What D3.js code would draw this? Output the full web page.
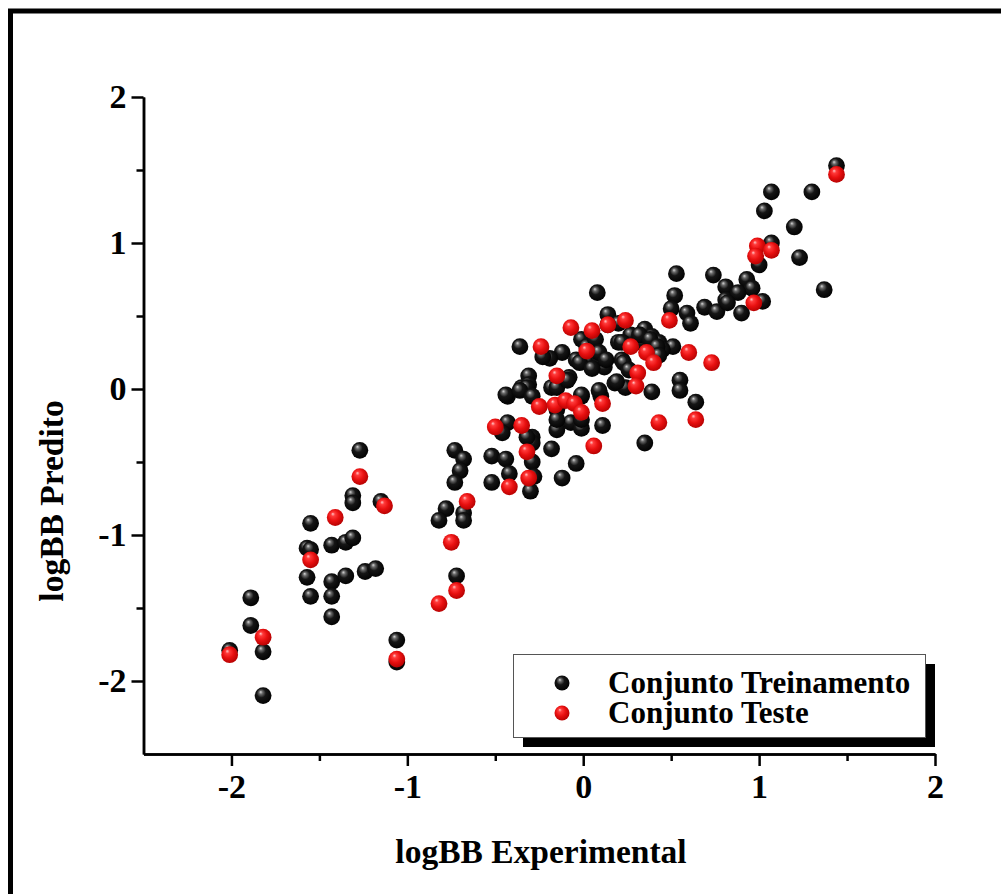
<!DOCTYPE html>
<html>
<head>
<meta charset="utf-8">
<script src="https://cdn.jsdelivr.net/npm/d3@7"></script>
<style>
  body { margin: 0; background: #fff; }
  .eixo text { font-family: "Liberation Serif", "Times New Roman", serif; font-weight: bold; font-size: 34px; fill: #000; }
  .eixo path, .eixo line { stroke: #000; stroke-width: 2.5px; }
  .rotulo { font-family: "Liberation Serif", "Times New Roman", serif; font-weight: bold; font-size: 33.5px; fill: #000; }
</style>
</head>
<body>
<div id="grafico"></div>
<script>
// logBB experimental x logBB predito
var conjuntoTreinamento = [
  [-1.89,-1.43],[-1.89,-1.62],[-1.82,-1.80],[-1.82,-2.10],[-2.01,-1.79],
  [-1.55,-0.92],[-1.57,-1.09],[-1.55,-1.10],[-1.43,-1.07],[-1.57,-1.29],[-1.55,-1.42],[-1.43,-1.32],[-1.43,-1.42],[-1.43,-1.56],
  [-1.27,-0.42],[-1.31,-0.73],[-1.31,-0.78],[-1.15,-0.77],[-1.35,-1.05],[-1.31,-1.02],[-1.35,-1.28],[-1.24,-1.25],[-1.18,-1.23],[-1.06,-1.72],[-1.06,-1.87],
  [-0.73,-0.42],[-0.68,-0.48],[-0.70,-0.56],[-0.73,-0.64],[-0.78,-0.82],[-0.82,-0.90],[-0.68,-0.85],[-0.68,-0.90],[-0.72,-1.28],
  [-0.52,-0.46],[-0.44,-0.48],[-0.52,-0.64],[-0.42,-0.58],[-0.43,-0.23],[-0.46,-0.30],[-0.29,-0.33],[-0.29,-0.37],[-0.29,-0.50],[-0.30,-0.70],[-0.28,-0.60],[-0.18,-0.41],[-0.04,-0.51],[-0.12,-0.61],
  [0.08,0.66],[0.14,0.51],[-0.36,0.29],[-0.01,0.34],[0.02,0.29],[-0.12,0.25],[-0.19,0.21],[-0.23,0.22],[-0.04,0.20],[0.03,0.20],[0.10,0.20],[0.12,0.15],
  [-0.31,0.09],[-0.35,0.01],[-0.31,0.03],[-0.43,-0.05],[-0.08,0.08],[-0.18,0.01],[-0.01,-0.05],[-0.15,-0.14],[-0.07,-0.23],[-0.01,-0.27],[-0.15,-0.28],[0.11,-0.25],
  [0.53,0.79],[0.74,0.78],[0.93,0.75],[0.96,0.69],[0.52,0.64],[0.50,0.55],[0.81,0.70],[0.81,0.61],[0.88,0.66],[0.69,0.56],[0.76,0.53],[0.90,0.52],[1.02,0.60],
  [0.59,0.52],[0.61,0.45],[0.20,0.45],[0.27,0.37],[0.35,0.41],[0.39,0.36],[0.43,0.32],[0.51,0.29],[0.20,0.32],[0.33,0.32],[0.45,0.27],[0.09,0.21],[0.22,0.20],
  [0.18,0.04],[0.24,0.01],[0.39,-0.02],[0.55,0.06],[0.55,-0.01],[0.64,-0.09],[0.35,-0.37],[0.10,-0.05],
  [1.44,1.53],[1.07,1.35],[1.30,1.35],[1.03,1.22],[1.20,1.11],[1.23,0.90],[1.37,0.68],[1.07,1.00],[1.00,0.85],[0.82,0.59],
  [0.07,0.34],[0.09,0.25],[0.13,0.20],[-0.02,0.18],[0.05,0.14],[0.22,0.32],[0.32,0.37],[0.38,0.34],[0.42,0.29],[0.43,0.23],[0.23,0.18],[0.26,0.13],[0.19,0.05],
  [-0.32,0.01],[-0.44,-0.04],[-0.36,-0.01],[-0.29,-0.05],[-0.15,0.01],[-0.09,0.06],[-0.01,-0.04],[0.09,-0.01],[-0.15,-0.21],[-0.01,-0.21],[-0.32,-0.33],[0.14,0.44]
];
var conjuntoTeste = [
  [-2.01,-1.82],[-1.82,-1.70],[-1.55,-1.17],[-1.41,-0.88],[-1.27,-0.60],[-1.13,-0.80],[-1.06,-1.85],
  [-0.66,-0.77],[-0.75,-1.05],[-0.72,-1.38],[-0.82,-1.47],[-0.42,-0.67],[-0.50,-0.26],[-0.35,-0.25],[-0.32,-0.43],[-0.31,-0.61],
  [-0.07,0.42],[0.05,0.40],[0.14,0.44],[-0.24,0.29],[0.02,0.26],[-0.15,0.09],[-0.25,-0.12],[-0.16,-0.11],[-0.10,-0.08],[-0.05,-0.10],[-0.01,-0.16],[0.11,-0.10],[0.06,-0.39],
  [0.24,0.47],[0.49,0.47],[0.27,0.29],[0.36,0.25],[0.40,0.18],[0.60,0.25],[0.73,0.18],[0.31,0.11],[0.30,0.02],[0.64,-0.21],[0.43,-0.23],
  [0.97,0.59],[0.99,0.98],[0.98,0.91],[1.07,0.95],[1.44,1.47]
];
var ticksPrincipais = [-2, -1, 0, 1, 2];
var ticksMenores = [-1.5, -0.5, 0.5, 1.5];
var nomesSeries = ["Conjunto Treinamento", "Conjunto Teste"];
var tituloX = "logBB Experimental";
var tituloY = "logBB Predito";

var largura = 1001, altura = 894;
var canvas = d3.select("#grafico").append("svg").attr("width", largura).attr("height", altura);

// moldura externa (passa da borda direita/inferior)
canvas.append("rect")
    .attr("x", 10.5).attr("y", 11)
    .attr("width", 1100).attr("height", 1000)
    .attr("fill", "#fff").attr("stroke", "#000").attr("stroke-width", 5);

var defs = canvas.append("defs");
function gradiente(id, cores) {
    var g = defs.append("radialGradient").attr("id", id)
        .attr("cx", "45%").attr("cy", "45%").attr("r", "60%")
        .attr("fx", "35%").attr("fy", "28%");
    cores.forEach(function (c) {
        g.append("stop").attr("offset", c[0]).attr("stop-color", c[1]);
    });
}
gradiente("bolaPreta", [["0%", "#d8d8d8"], ["18%", "#6a6a6a"], ["45%", "#151515"], ["100%", "#000"]]);
gradiente("bolaVermelha", [["0%", "#ffc8c8"], ["20%", "#ff3a3a"], ["55%", "#e81010"], ["100%", "#b00000"]]);

var xScale = d3.scaleLinear().domain([-2.5, 2]).range([143.5, 935]);
var yScale = d3.scaleLinear().domain([-2.5, 2]).range([754, 97]);

// ticks menores
canvas.append("g").attr("class", "eixo")
    .attr("transform", "translate(0,754)")
    .call(d3.axisBottom(xScale).tickValues(ticksMenores).tickSize(7).tickSizeOuter(0).tickFormat(""));
canvas.append("g").attr("class", "eixo")
    .attr("transform", "translate(143.5,0)")
    .call(d3.axisLeft(yScale).tickValues(ticksMenores).tickSize(7).tickSizeOuter(0).tickFormat(""));

var eixoX = canvas.append("g").attr("class", "eixo")
    .attr("transform", "translate(0,754)")
    .call(d3.axisBottom(xScale).tickValues(ticksPrincipais).tickSize(12).tickSizeOuter(0).tickPadding(8)
        .tickFormat(function (d) { return String(d); }));

var eixoY = canvas.append("g").attr("class", "eixo")
    .attr("transform", "translate(143.5,0)")
    .call(d3.axisLeft(yScale).tickValues(ticksPrincipais).tickSize(12).tickSizeOuter(0).tickPadding(5)
        .tickFormat(function (d) { return String(d); }));

canvas.append("text").attr("class", "rotulo")
    .attr("x", 541).attr("y", 863)
    .attr("text-anchor", "middle")
    .text(tituloX);

canvas.append("text").attr("class", "rotulo")
    .attr("transform", "translate(63,501) rotate(-90)")
    .attr("text-anchor", "middle")
    .text(tituloY);

var pontos = canvas.append("g");
pontos.selectAll(".treino")
    .data(conjuntoTreinamento)
    .enter().append("circle")
    .attr("class", "treino")
    .attr("cx", function (d) { return xScale(d[0]); })
    .attr("cy", function (d) { return yScale(d[1]); })
    .attr("r", 8.4)
    .attr("fill", "url(#bolaPreta)");

pontos.selectAll(".teste")
    .data(conjuntoTeste)
    .enter().append("circle")
    .attr("class", "teste")
    .attr("cx", function (d) { return xScale(d[0]); })
    .attr("cy", function (d) { return yScale(d[1]); })
    .attr("r", 8.4)
    .attr("fill", "url(#bolaVermelha)");

// legenda
var legenda = canvas.append("g").attr("transform", "translate(513,654)");
legenda.append("rect").attr("x", 10).attr("y", 10).attr("width", 412).attr("height", 83).attr("fill", "#000");
legenda.append("rect").attr("x", 0.5).attr("y", 0.5).attr("width", 412).attr("height", 83)
    .attr("fill", "#fff").attr("stroke", "#555").attr("stroke-width", 1);

var itens = legenda.selectAll(".item")
    .data(nomesSeries)
    .enter().append("g")
    .attr("class", "item")
    .attr("transform", function (d, i) { return "translate(0," + (29 + i * 30) + ")"; });
itens.append("circle")
    .attr("cx", 49).attr("cy", 0).attr("r", 7.5)
    .attr("fill", function (d, i) { return i == 0 ? "url(#bolaPreta)" : "url(#bolaVermelha)"; });
itens.append("text").attr("class", "rotulo")
    .attr("x", 95).attr("y", 10)
    .style("font-size", "31px")
    .text(function (d) { return d; });
</script>
</body>
</html>
